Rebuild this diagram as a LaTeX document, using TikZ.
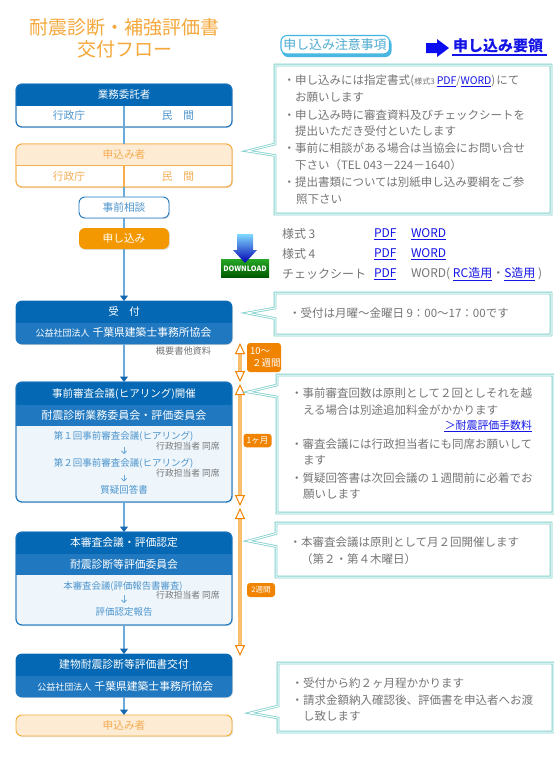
\documentclass[tikz,border=0pt]{standalone}
\usepackage{fontspec}
\setmainfont{Noto Sans CJK JP}
\usetikzlibrary{arrows.meta,shadows,calc}
\definecolor{dkblue}{HTML}{0468B4}
\definecolor{band}{HTML}{2078C0}
\definecolor{pale}{HTML}{EEF6FC}
\definecolor{lblue}{HTML}{4C94CC}
\definecolor{rope}{HTML}{6AAADA}
\definecolor{tip}{HTML}{1568B0}
\definecolor{orng}{HTML}{F39800}
\definecolor{orngb}{HTML}{F7AE4C}
\definecolor{orngf}{HTML}{FDEBD3}
\definecolor{orngt}{HTML}{F5AC52}
\definecolor{title}{HTML}{F5A83C}
\definecolor{lab}{HTML}{F08300}
\definecolor{teal}{HTML}{7FD0CC}
\definecolor{gry}{HTML}{767676}
\definecolor{link}{HTML}{1414E6}
\newcommand\sq{\rule[-.12em]{0pt}{.88em}}
\newcommand\lk[1]{\textcolor{link}{\underline{#1}}}
\tikzset{
  every node/.style={inner sep=0pt,outer sep=0pt,execute at begin node=\sq},
  panel/.style={rounded corners=6pt,minimum width=216pt,
    drop shadow={shadow xshift=1pt,shadow yshift=-1pt,opacity=.22,fill=gray}},
  small panel/.style={rounded corners=6pt,minimum width=90pt,minimum height=21pt,
    drop shadow={shadow xshift=1pt,shadow yshift=-1pt,opacity=.22,fill=gray}},
  wt/.style={text=white,font=\fontsize{#1}{#1}\selectfont},
  bt/.style={text=lblue,font=\fontsize{#1}{#1}\selectfont},
  ot/.style={text=orngt,font=\fontsize{#1}{#1}\selectfont},
  gt/.style={text=gry,font=\fontsize{#1}{#1}\selectfont},
  note/.style={text=gry,anchor=west,font=\fontsize{11.5}{11.5}\selectfont},
  tbl/.style={text=gry,anchor=west,font=\fontsize{12}{12}\selectfont},
  callout/.style={draw=teal,double=white,double distance=1pt,line width=.8pt,line join=miter,fill=white},
  flow/.style={draw=rope,line width=2pt},
  flowa/.style={flow,-{Triangle[length=5.5pt,width=8pt,color=tip]}},
  span/.style={draw=orngb!80,line width=3.8pt,
    {Triangle[open,fill=white,length=11pt,width=10pt,line width=1pt,color=lab]}-{Triangle[open,fill=white,length=11pt,width=10pt,line width=1pt,color=lab]}},
  tag/.style={fill=lab,rounded corners=3pt,text=white,align=center},
}
% name, top, bottom, border, fill
\newcommand\Panel[5]{\node[panel,draw=#4,line width=.9pt,fill=#5,minimum height={(#3-#2)*1pt}] (#1) at (124,{(#2+#3)/2}) {};}
% panel top, panel bottom, strip top, strip bottom, colour
\newcommand\Strip[5]{\begin{scope}\clip[rounded corners=6pt] (16,#1) rectangle (232,#2);\fill[#5] (16,#3) rectangle (232,#4);\end{scope}}
\newcommand\Edge[2]{\draw[#2,line width=.9pt,rounded corners=6pt] (#1.north west) rectangle (#1.south east);}
\begin{document}
\begin{tikzpicture}[x=1pt,y=-1pt]
\useasboundingbox (0,0) rectangle (554,769);
\fill[white] (0,0) rectangle (554,769);
% title
\node[text=title,font=\fontsize{19}{19}\selectfont] (t1) at (125,28) {耐震診断・補強評価書};
\node[text=title,font=\fontsize{19}{19}\selectfont] (t2) at (125,50) {交付フロー};

% panels
\Panel{itaku}{84}{127}{band}{white}
\Strip{84}{127}{84}{105.5}{dkblue}
\Edge{itaku}{band}
\coordinate (itakuh) at (124,105.5);
\Panel{shin}{144}{187}{orngb}{white}
\Strip{144}{187}{144}{165.5}{orngf}
\draw[orngb,line width=.9pt] (16,165.5) -- (232,165.5);
\Edge{shin}{orngb}
\coordinate (shinh) at (124,165.5);
\node[small panel,draw=band,line width=.9pt,fill=white] (soudan) at (124,207.5) {};
\node[small panel,fill=orng] (moushi) at (124,238.5) {};
\Panel{uke}{301}{344}{band}{band}
\Strip{301}{344}{301}{323}{dkblue}
\Panel{jizen}{382}{502}{band}{pale}
\Strip{382}{502}{382}{405}{dkblue}
\Strip{382}{502}{405}{426}{band}
\Edge{jizen}{band}
\Panel{hon}{532}{625}{band}{pale}
\Strip{532}{625}{532}{554}{dkblue}
\Strip{532}{625}{554}{575}{band}
\Edge{hon}{band}
\Panel{kotai}{654}{697}{band}{band}
\Strip{654}{697}{654}{676}{dkblue}
\Panel{shin2}{715}{736}{orng!80}{orngf}

% connectors
\draw[flow] (itakuh) -- (shin.north);
\draw[orngb,line width=1.6pt] (shinh) -- (shin.south);
\draw[flow] (shin.south) -- (soudan.north);
\draw[flow] (soudan.south) -- (moushi.north);
\draw[flowa] (moushi.south) -- (uke.north);
\draw[flowa] (uke.south) -- (jizen.north);
\draw[flowa] (jizen.south) -- (hon.north);
\draw[flowa] (hon.south) -- (kotai.north);
\draw[flowa] (kotai.south) -- (shin2.north);

% panel text
\node[wt=10.5] (a1) at (124,94.5) {業務委託者};
\node[bt=10.7] (a2) at (69,116) {行政庁};
\node[bt=10.7] (a3) at (178,116) {民\hspace{1em}間};
\node[ot=10.7] (b1) at (124,155) {申込み者};
\node[ot=10.7] (b2) at (69,176.5) {行政庁};
\node[ot=10.7] (b3) at (178,176.5) {民\hspace{1em}間};
\node[bt=10.7] (c1) at (124,208) {事前相談};
\node[wt=10.7] (c2) at (124,238.5) {申し込み};
\node[wt=10.5] (d1) at (124,312) {受\hspace{1em}付};
\node[text=white,anchor=west,font=\fontsize{10.8}{10.8}\selectfont] (d2) at (35.5,333) {{\fontsize{9}{9}\selectfont 公益社団法人}\hspace{3pt}千葉県建築士事務所協会};
\node[gt=9.2] (d3) at (183.5,351) {概要書他資料};
\node[wt=10.5] (e1) at (124,394) {事前審査会議(ヒアリング)開催};
\node[wt=11] (e2) at (124,415.5) {耐震診断業務委員会・評価委員会};
\node[bt=9.5] (e3) at (123.5,436) {第１回事前審査会議(ヒアリング)};
\node[gt=8.8] (e4) at (188,446) {行政担当者 同席};
\node[bt=9.5] (e5) at (123.5,463) {第２回事前審査会議(ヒアリング)};
\node[gt=8.8] (e6) at (188,473) {行政担当者 同席};
\node[bt=9.5] (e7) at (124,490) {質疑回答書};
\coordinate (e3a) at (124,447); \coordinate (e5a) at (124,474.5);
\draw[rope,line width=.8pt,-{Straight Barb[length=2.5pt,width=5pt]}] (e3a) -- ++(0,7);
\draw[rope,line width=.8pt,-{Straight Barb[length=2.5pt,width=5pt]}] (e5a) -- ++(0,7);
\node[wt=10.8] (f1) at (124,543) {本審査会議・評価認定};
\node[wt=10.8] (f2) at (124,564.5) {耐震診断等評価委員会};
\node[bt=9.4] (f3) at (123,586) {本審査会議(評価報告書審査)};
\node[gt=8.8] (f4) at (188,595) {行政担当者 同席};
\node[bt=9.5] (f5) at (124,612.5) {評価認定報告};
\coordinate (f3a) at (124,595);
\draw[rope,line width=.8pt,-{Straight Barb[length=2.5pt,width=5pt]}] (f3a) -- ++(0,8);
\node[wt=10.8] (g1) at (124,665) {建物耐震診断等評価書交付};
\node[text=white,anchor=west,font=\fontsize{10.8}{10.8}\selectfont] (g2) at (37.5,687) {{\fontsize{9}{9}\selectfont 公益社団法人}\hspace{3pt}千葉県建築士事務所協会};
\node[ot=10.7] (h1) at (124,726) {申込み者};

% duration arrows
\coordinate (s1a) at (240,343); \coordinate (s1b) at (240,382);
\coordinate (s2a) at (240,384); \coordinate (s2b) at (240,506);
\coordinate (s3a) at (240,508); \coordinate (s3b) at (240,656);
\draw[span] (s1a) -- (s1b);
\draw[span] (s2a) -- (s2b);
\draw[span] (s3a) -- (s3b);
\fill[lab,rounded corners=3pt] (247,343) rectangle (281,372);
\node[text=white,anchor=west,font=\fontsize{9.5}{9.5}\selectfont] (l1) at (250,351) {10～};
\node[text=white,anchor=west,font=\fontsize{9.5}{9.5}\selectfont] (l2) at (252,363) {２週間};
\node[tag,minimum width=28pt,minimum height=13.5pt,font=\fontsize{8.5}{8.5}\selectfont] (l3) at (257.5,440.5) {1ヶ月};
\node[tag,minimum width=28pt,minimum height=14pt,font=\fontsize{7.5}{7.5}\selectfont] (l4) at (261,590) {2週間};

% callouts
\draw[callout] (275,65) -- (551,65) -- (551,214) -- (275,214) -- (275,155.5) -- (247,151) -- (275,144) -- cycle;
\draw[callout] (275,293) -- (551,293) -- (551,335) -- (275,335) -- (275,318.5) -- (247,313) -- (275,308) -- cycle;
\draw[callout] (277,375) -- (553,375) -- (553,513) -- (277,513) -- (277,397) -- (248,392) -- (277,385) -- cycle;
\draw[callout] (276,523) -- (551,523) -- (551,577) -- (276,577) -- (276,546.5) -- (248,541) -- (276,533.5) -- cycle;
\draw[callout] (278,663) -- (553,663) -- (553,732) -- (278,732) -- (278,718) -- (250,713) -- (278,706) -- cycle;

% callout 1
\node[note] (n1) at (283.5,81) {・申し込みには指定書式\hspace{.5pt}({\fontsize{8}{8}\selectfont 様式3}\hspace{2pt}{\fontsize{10.5}{10.5}\selectfont\lk{PDF}/\lk{WORD}})\hspace{1pt}にて};
\node[note] (n2) at (295,98) {お願いします};
\node[note] (n3) at (283.5,115) {・申し込み時に審査資料及びチェックシートを};
\node[note] (n4) at (295,131.5) {提出いただき受付といたします};
\node[note] (n5) at (283.5,148) {・事前に相談がある場合は当協会にお問い合せ};
\node[note] (n6) at (295,165) {下さい（TEL 043－224－1640）};
\node[note] (n7) at (283.5,182) {・提出書類については別紙申し込み要綱をご参};
\node[note] (n8) at (296,200) {照下さい};
% callout 2
\node[note] (n9) at (289,313) {・受付は月曜～金曜日 9：00～17：00です};
% callout 3
\node[note] (n10) at (291,393) {・事前審査回数は原則として２回としそれを越};
\node[note] (n11) at (303,410) {える場合は別途追加料金がかかります};
\node[anchor=east,font=\fontsize{10.9}{10.9}\selectfont] (n12) at (532,426) {\lk{\hspace{1pt}＞耐震評価手数料}};
\node[note] (n13) at (291,444) {・審査会議には行政担当者にも同席お願いして};
\node[note] (n14) at (303,460.5) {ます};
\node[note] (n15) at (291,478) {・質疑回答書は次回会議の１週間前に必着でお};
\node[note] (n16) at (303,494.5) {願いします};
% callout 4
\node[note] (n17) at (289.5,542) {・本審査会議は原則として月２回開催します};
\node[note] (n18) at (301,559) {（第２・第４木曜日）};
% callout 5
\node[note] (n19) at (291.5,683) {・受付から約２ヶ月程かかります};
\node[note] (n20) at (291.5,700) {・請求金額納入確認後、評価書を申込者へお渡};
\node[note] (n21) at (303,716) {し致します};

% heading badge
\fill[cyan!55!teal,rounded corners=6pt] (282,38) rectangle (391.5,57);
\draw[cyan!60!teal,fill=white,line width=1.1pt,rounded corners=6pt] (281,35.5) rectangle (389.5,54);
\node[text=cyan!60!teal!90!black,font=\fontsize{12.9}{12.9}\selectfont] (badge) at (335,45) {申し込み注意事項};
% blue arrow and link
\fill[link!60!blue] (426,43) -- (437,43) -- (437,39) -- (449,48) -- (437,57) -- (437,53) -- (426,53) -- cycle;
\node[anchor=west,font=\fontsize{15}{15}\selectfont\bfseries,text=link] (yoryo) at (453,45.5) {申し込み要領};
\draw[link,line width=1.1pt] (452,55) -- (547,55);

% download icon
\shade[top color=green!60!black!85!white,bottom color=green!35!black] (221,259) rectangle (269,277);
\shade[top color=cyan!70!blue!50!white,bottom color=blue!70!black] (237,234) -- (253,234) -- (253,250) -- (257,250) -- (245,263) -- (233,250) -- (237,250) -- cycle;
\node[text=white,font=\fontsize{7.3}{7.3}\selectfont\bfseries] (dl) at (245,269) {DOWNLOAD};

% table
\node[tbl] (r1) at (282,234.5) {様式 3};
\node[tbl] (r2) at (282,254.5) {様式 4};
\node[tbl] (r3) at (282,274.5) {チェックシート};
\node[tbl] (p1) at (374,234) {\lk{PDF}};
\node[tbl] (p2) at (374,254) {\lk{PDF}};
\node[tbl] (p3) at (374,274) {\lk{PDF}};
\node[tbl] (w1) at (411,234) {\lk{WORD}};
\node[tbl] (w2) at (411,254) {\lk{WORD}};
\node[tbl] (w3) at (411,274) {WORD( \lk{RC造用}・\lk{S造用} )};
\end{tikzpicture}
\end{document}
